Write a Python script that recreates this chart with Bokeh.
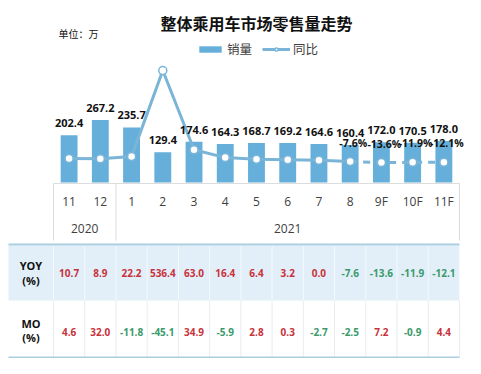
from bokeh.plotting import figure
from bokeh.models import ColumnDataSource, Range1d, Legend, LegendItem
from bokeh.core.properties import value
from bokeh.embed import file_html
from bokeh.resources import INLINE

# ---------------- data ----------------
months = ["11", "12", "1", "2", "3", "4", "5", "6", "7", "8", "9F", "10F", "11F"]
years = ["2020", "2020"] + ["2021"] * 11
sales = [202.4, 267.2, 235.7, 129.4, 174.6, 164.3, 168.7, 169.2, 164.6, 160.4, 172.0, 170.5, 178.0]
yoy = [10.7, 8.9, 22.2, 536.4, 63.0, 16.4, 6.4, 3.2, 0.0, -7.6, -13.6, -11.9, -12.1]
mom = [4.6, 32.0, -11.8, -45.1, 34.9, -5.9, 2.8, 0.3, -2.7, -2.5, 7.2, -0.9, 4.4]
yoy_label_months = ["8", "9F", "10F", "11F"]
title_text = "整体乘用车市场零售量走势"
unit_text = "单位：万"
legend_labels = ["销量", "同比"]
row_headers = [("YOY", "(%)"), ("MO", "(%)")]

# ---------------- style ----------------
BAR = "#65afda"
LINE = "#7ab5d8"
RED = "#c8323c"
GREEN = "#3a9a6c"
GRID = "#dcdcdc"
TBL_BORDER = "#a9cfe1"
TBL_BG = "#e2eff8"
NUM = "Open Sans"
CJK = "Noto Sans CJK SC"

W, H = 465, 358
STEP = 31.23
X0 = 68.6
xs0 = -X0 / STEP
xs1 = xs0 + W / STEP
n = len(months)
idx = list(range(n))

p = figure(width=W, height=H, output_backend="svg", toolbar_location=None,
           x_range=Range1d(xs0, xs1), y_range=Range1d(-752, 778),
           x_axis_location=None, y_axis_location=None, min_border=0,
           outline_line_color=None, background_fill_color="white",
           border_fill_color="white")
p.grid.visible = False
p.extra_y_ranges = {"yoy": Range1d(-1184, 955), "px": Range1d(H, 0)}
p.extra_x_ranges = {"px": Range1d(0, W)}

src = ColumnDataSource(dict(
    i=idx, sales=sales, yoy=yoy, mom=mom, months=months,
    sales_lbl=[f"{v:.1f}" for v in sales],
))

# bars
bars = p.vbar(x="i", top="sales", width=0.54, source=src, fill_color=BAR, line_color=None)

# yoy line: solid for actual months, dashed for forecast
last_actual = max(k for k, m in enumerate(months) if not m.endswith("F"))
solid = p.line(idx[:last_actual + 1], yoy[:last_actual + 1], y_range_name="yoy",
               line_color=LINE, line_width=3)
p.line(idx[last_actual:], yoy[last_actual:], y_range_name="yoy",
       line_color=LINE, line_width=3, line_dash="7 6")
pts = p.scatter(x="i", y="yoy", source=src, y_range_name="yoy", size=8,
                fill_color="white", line_color=LINE, line_width=1.5)

# bar value labels
p.text(x="i", y="sales", text="sales_lbl", source=src, text_align="center",
       text_baseline="bottom", y_offset=-8, text_font=value(NUM),
       text_font_size="11px", text_font_style="bold", text_color="#111111")

# yoy labels for last months
sel = [k for k, m in enumerate(months) if m in yoy_label_months]
p.text(x=[idx[k] for k in sel], y=[yoy[k] for k in sel],
       text=[f"{yoy[k]:.1f}%" for k in sel], y_range_name="yoy",
       text_align="center", text_baseline="middle", x_offset=3, y_offset=-19,
       text_font=value(NUM), text_font_size="10.5px", text_font_style="bold",
       text_color="#111111")

# category axis
AX_Y, SEP_BOT, MON_Y, YR_Y = 183, 240, 201, 228
p.segment(x0=[-0.5], x1=[n - 0.5], y0=[AX_Y], y1=[AX_Y], y_range_name="px",
          line_color=GRID, line_width=1)
seps = [-0.5] + [k - 0.5 for k in range(1, n) if years[k] != years[k - 1]] + [n - 0.5]
p.segment(x0=seps, x1=seps, y0=[AX_Y] * len(seps), y1=[SEP_BOT] * len(seps),
          y_range_name="px", line_color=GRID, line_width=1)
p.text(x=idx, y=[MON_Y] * n, text=months, y_range_name="px", text_align="center",
       text_baseline="middle", text_font=value(NUM), text_font_size="12px",
       text_color="#404040")
uniq_years = list(dict.fromkeys(years))
yr_x = [sum(k for k in idx if years[k] == y) / years.count(y) for y in uniq_years]
p.text(x=yr_x, y=[YR_Y] * len(uniq_years), text=uniq_years, y_range_name="px",
       text_align="center", text_baseline="middle", text_font=value(NUM),
       text_font_size="12px", text_color="#404040")

# table
T_LEFT = xs0 + 8 / STEP
T_TOP, T_MID, T_BOT = 245, 300, 357
p.quad(left=[T_LEFT], right=[n - 0.5], top=[T_TOP], bottom=[T_MID], y_range_name="px",
       fill_color=TBL_BG, line_color=None)
bounds = [-0.5 + k for k in range(n + 1)]
p.segment(x0=bounds, x1=bounds, y0=[T_TOP] * len(bounds), y1=[T_MID] * len(bounds),
          y_range_name="px", line_color="#f4f9fc", line_width=1)
p.segment(x0=bounds, x1=bounds, y0=[T_MID] * len(bounds), y1=[T_BOT] * len(bounds),
          y_range_name="px", line_color="#e6edf1", line_width=1)
p.segment(x0=[T_LEFT, T_LEFT], x1=[n - 0.5, n - 0.5], y0=[T_TOP - 1, T_BOT],
          y1=[T_TOP - 1, T_BOT], y_range_name="px", line_color=TBL_BORDER, line_width=2)

hdr_x = (T_LEFT - 0.5) / 2
row_y = [(265, 280, 272), (323, 337, 331)]
for (h1, h2), (y1, y2, yv), vals in zip(row_headers, row_y, [yoy, mom]):
    p.text(x=[hdr_x, hdr_x], y=[y1, y2], text=[h1, h2], y_range_name="px",
           text_align="center", text_baseline="middle", text_font=value(NUM),
           text_font_size="11px", text_font_style="bold", text_color="#111111")
    p.text(x=idx, y=[yv] * n, text=[f"{v:.1f}" for v in vals], y_range_name="px",
           text_align="center", text_baseline="middle", text_font=value(NUM),
           text_font_size="10px", text_font_style="bold",
           text_color=[RED if v >= 0 else GREEN for v in vals])

# title and unit
p.text(x=[256], y=[22], text=[title_text], x_range_name="px", y_range_name="px",
       text_align="center", text_baseline="middle", text_font=value(CJK),
       text_font_size="16px", text_font_style="bold", text_color="#111111")
p.text(x=[58], y=[33], text=[unit_text], x_range_name="px", y_range_name="px",
       text_align="left", text_baseline="middle", text_font=value(CJK),
       text_font_size="10px", text_color="#111111")

# legend
legend = Legend(items=[LegendItem(label=legend_labels[0], renderers=[bars]),
                       LegendItem(label=legend_labels[1], renderers=[solid, pts])],
                orientation="horizontal", location=(196, 300), padding=0, margin=0,
                spacing=10, glyph_width=28, glyph_height=8, label_height=14,
                label_standoff=3, label_text_font=CJK, label_text_font_size="12.5px",
                label_text_color="#404040", border_line_color=None,
                background_fill_alpha=0)
p.add_layout(legend)

open("out.html", "w").write(file_html(p, INLINE))
